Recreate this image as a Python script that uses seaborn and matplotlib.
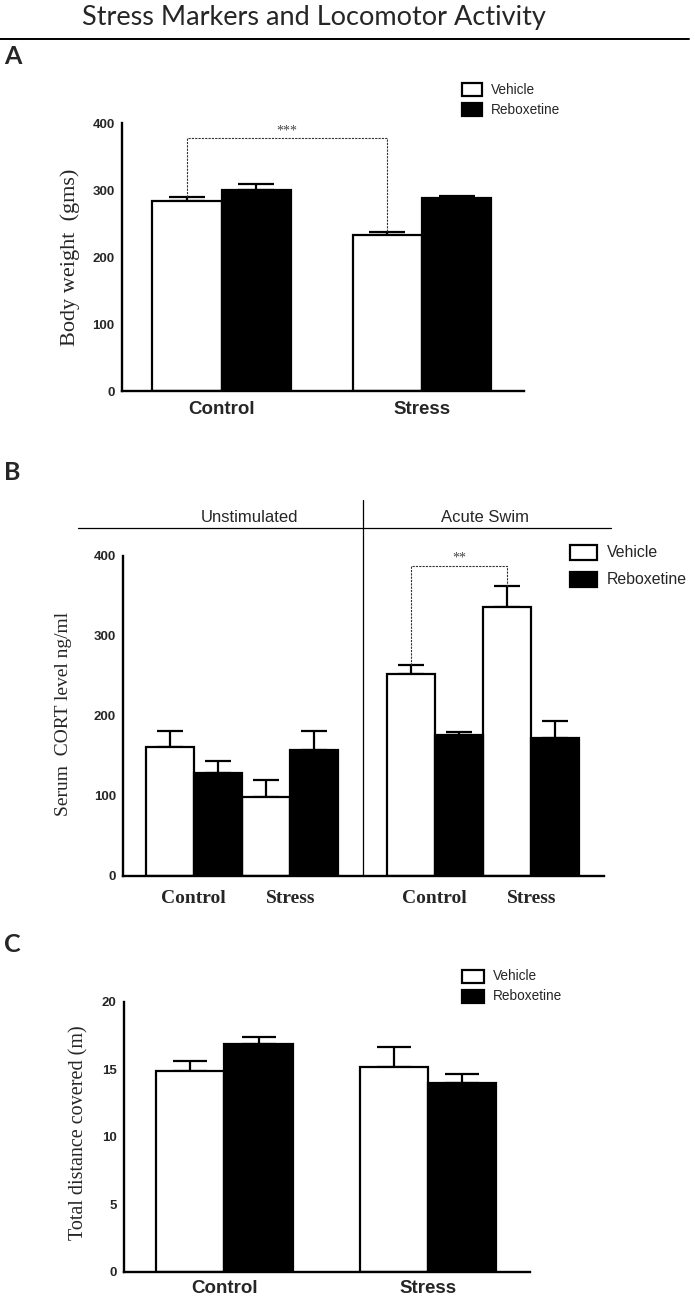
import pandas as pd
import matplotlib
matplotlib.use("Agg")
import matplotlib.pyplot as plt
import seaborn as sns
from matplotlib import font_manager
from matplotlib.patches import Rectangle
from matplotlib.lines import Line2D


##################################################
# Data
##################################################

treatments = ["Vehicle", "Reboxetine"]
groups = ["Control", "Stress"]

# A - body weight (gms)
weight_vehicle = [284, 232.5]
weight_vehicle_err = [6, 4.5]
weight_reboxetine = [300.5, 288]
weight_reboxetine_err = [9.5, 4]

# B - serum CORT (ng/ml), Unstimulated then Acute Swim
cort_labels = ["Control", "Stress", "Control", "Stress"]
cort_pos = [0, 1, 2.5, 3.5]
cort_vehicle = [161, 99, 252, 336]
cort_vehicle_err = [20, 21, 11, 27]
cort_reboxetine = [129, 157.5, 176, 172.5]
cort_reboxetine_err = [15, 23.5, 4, 21.5]
conditions = ["Unstimulated", "Acute Swim"]

# C - total distance covered (m)
dist_vehicle = [14.9, 15.2]
dist_vehicle_err = [0.68, 1.48]
dist_reboxetine = [16.85, 13.98]
dist_reboxetine_err = [0.54, 0.66]


##################################################
# Style
##################################################

W, H = 695, 1300
sns.set_style("white")

available = {f.name for f in font_manager.fontManager.ttflist}
NARROW = "Liberation Sans Narrow" if "Liberation Sans Narrow" in available else "Liberation Sans"
NS = 1.0 if NARROW == "Liberation Sans Narrow" else 0.85
SANS = "Liberation Sans"
SERIF = "Liberation Serif"
TITLE = "Lato" if "Lato" in available else "Open Sans"

plt.rcParams["font.family"] = [SANS, "DejaVu Sans"]
palette = {"Vehicle": "white", "Reboxetine": "black"}


def fx(px):
    return px / W


def fy(py):
    return 1 - py / H


def axes_box(left, top, right, bottom):
    return [fx(left), fy(bottom), (right - left) / W, (bottom - top) / H]


def long_frame(x_values, veh, reb):
    rows = []
    for x, v in zip(x_values, veh):
        rows.append({"x": x, "treatment": "Vehicle", "value": v})
    for x, v in zip(x_values, reb):
        rows.append({"x": x, "treatment": "Reboxetine", "value": v})
    return pd.DataFrame(rows)


def add_errors(ax, errs, capsize):
    # one container per hue level, bars in x order
    for cont, err in zip(ax.containers, errs):
        bars = sorted(cont.patches, key=lambda b: b.get_x())
        xs = [b.get_x() + b.get_width() / 2 for b in bars]
        ys = [b.get_height() for b in bars]
        ax.errorbar(xs, ys, yerr=[[0] * len(err), err], fmt="none",
                    ecolor="black", elinewidth=1.6, capsize=capsize,
                    capthick=1.6, zorder=1)


def bar_tops(ax):
    out = {}
    for i, cont in enumerate(ax.containers):
        if i >= 2:
            break
        bars = sorted(cont.patches, key=lambda b: b.get_x())
        out[i] = [(b.get_x() + b.get_width() / 2, b.get_height()) for b in bars]
    return out


def style_axes(ax, xtick_len):
    sns.despine(ax=ax)
    for s in ["left", "bottom"]:
        ax.spines[s].set_linewidth(1.7)
        ax.spines[s].set_color("black")
    ax.tick_params(axis="y", direction="out", length=4, width=1.5,
                   labelsize=9.5, pad=1)
    ax.tick_params(axis="x", direction="out", length=xtick_len, width=1.5)
    for lab in ax.get_yticklabels():
        lab.set_fontfamily(NARROW)
        lab.set_fontweight("bold")
    ax.set_xlabel("")


def legend(fig, left, top1, top2, w, h, text_x, size):
    for top, name in zip([top1, top2], treatments):
        fig.patches.append(Rectangle((fx(left), fy(top + h)), w / W, h / H,
                                     transform=fig.transFigure,
                                     facecolor=palette[name], edgecolor="black",
                                     linewidth=1.6))
        fig.text(fx(text_x), fy(top + h / 2), name, fontsize=size * NS,
                 family=NARROW, va="center", ha="left")


def bracket(ax, x0, y0, x1, y1, top, stars, star_y, size):
    ax.plot([x0, x0, x1, x1], [y0, top, top, y1], color="#333333",
            linestyle=(0, (2, 1)), linewidth=0.8, zorder=3)
    ax.text((x0 + x1) / 2, star_y, stars, ha="center", va="center",
            fontsize=size, color="#444444", family=SERIF)


fig = plt.figure(figsize=(W / 100, H / 100), dpi=100)

fig.text(fx(314), fy(18), "Stress Markers and Locomotor Activity",
         family=TITLE, fontsize=19.5, ha="center", va="center")
fig.lines.append(Line2D([fx(0), fx(689)], [fy(38.5), fy(38.5)],
                        transform=fig.transFigure, color="black", linewidth=1.4))

for lab, py in zip(["A", "B", "C"], [57, 472, 945]):
    fig.text(fx(4), fy(py), lab, family=TITLE, fontweight="bold",
             fontsize=18, ha="left", va="center")


##################################################
# Panel A
##################################################

axA = fig.add_axes(axes_box(121.5, 123.3, 524, 391))
dfA = long_frame(groups, weight_vehicle, weight_reboxetine)
sns.barplot(data=dfA, x="x", y="value", hue="treatment", order=groups,
            hue_order=treatments, palette=palette, edgecolor="black",
            linewidth=1.6, width=0.69, errorbar=None, legend=False,
            zorder=2, ax=axA)
topsA = bar_tops(axA)
add_errors(axA, [weight_vehicle_err, weight_reboxetine_err], capsize=13)
axA.set_ylim(0, 400)
axA.set_yticks([0, 100, 200, 300, 400])
axA.set_xlim(-0.499, 1.509)
style_axes(axA, 5)
axA.set_xticks([0, 1], groups, fontsize=13.5, fontweight="bold", family=SANS)
axA.tick_params(axis="x", pad=2)
axA.set_ylabel("Body weight  (gms)", family=SERIF, fontsize=16, va="center")
axA.yaxis.set_label_coords(fx(70), fy(257), transform=fig.transFigure)
(xv0, _), (xv1, _) = topsA[0][0], topsA[0][1]
bracket(axA, xv0, weight_vehicle[0] + weight_vehicle_err[0],
        xv1, weight_vehicle[1] + weight_vehicle_err[1], 378, "***", 389, 10)
legend(fig, 462, 83, 103, 20, 13, 491, 11.5)


##################################################
# Panel B
##################################################

axB = fig.add_axes(axes_box(122.7, 556, 604.4, 875.7))
dfB = long_frame(cort_pos, cort_vehicle, cort_reboxetine)
sns.barplot(data=dfB, x="x", y="value", hue="treatment", native_scale=True,
            hue_order=treatments, palette=palette, edgecolor="black",
            linewidth=1.6, width=1.0, errorbar=None, legend=False,
            zorder=2, ax=axB)
topsB = bar_tops(axB)
add_errors(axB, [cort_vehicle_err, cort_reboxetine_err], capsize=9.5)
axB.set_ylim(0, 400)
axB.set_yticks([0, 100, 200, 300, 400])
axB.set_xlim(-0.7375, 4.259)
style_axes(axB, 0)
axB.set_xticks(cort_pos, cort_labels, fontsize=14, fontweight="bold", family=SERIF)
axB.tick_params(axis="x", pad=10)
axB.set_ylabel("Serum  CORT level ng/ml", family=SERIF, fontsize=14, va="center")
axB.yaxis.set_label_coords(fx(63), fy(714), transform=fig.transFigure)

# condition header and divider
divider = (cort_pos[1] + cort_pos[2]) / 2
axB.axvline(divider, ymin=0, ymax=(875.7 - 500) / (875.7 - 556),
            color="black", linewidth=0.9, clip_on=False)
fig.lines.append(Line2D([fx(78), fx(611)], [fy(527.7), fy(527.7)],
                        transform=fig.transFigure, color="black", linewidth=0.9))
for name, px in zip(conditions, [249, 485]):
    fig.text(fx(px), fy(518), name, family=NARROW, fontsize=12,
             ha="center", va="center")

(xs0, _), (xs1, _) = topsB[0][2], topsB[0][3]
bracket(axB, xs0, cort_vehicle[2] + cort_vehicle_err[2],
        xs1, cort_vehicle[3] + cort_vehicle_err[3], 387, "**", 397, 10)
legend(fig, 570, 545, 572, 27, 15, 607, 13.5)


##################################################
# Panel C
##################################################

axC = fig.add_axes(axes_box(123.5, 1001.7, 530, 1271.7))
dfC = long_frame(groups, dist_vehicle, dist_reboxetine)
sns.barplot(data=dfC, x="x", y="value", hue="treatment", order=groups,
            hue_order=treatments, palette=palette, edgecolor="black",
            linewidth=1.6, width=0.67, errorbar=None, legend=False,
            zorder=2, ax=axC)
add_errors(axC, [dist_vehicle_err, dist_reboxetine_err], capsize=12)
axC.set_ylim(0, 20)
axC.set_yticks([0, 5, 10, 15, 20])
axC.set_xlim(-0.4956, 1.501)
style_axes(axC, 5)
axC.set_xticks([0, 1], groups, fontsize=13.5, fontweight="bold", family=SANS)
axC.tick_params(axis="x", pad=1)
axC.set_ylabel("Total distance covered (m)", family=SERIF, fontsize=14.5, va="center")
axC.yaxis.set_label_coords(fx(79), fy(1133), transform=fig.transFigure)
legend(fig, 462, 970, 990, 22, 13, 493, 11.5)

fig.savefig("out.png", dpi=100)
